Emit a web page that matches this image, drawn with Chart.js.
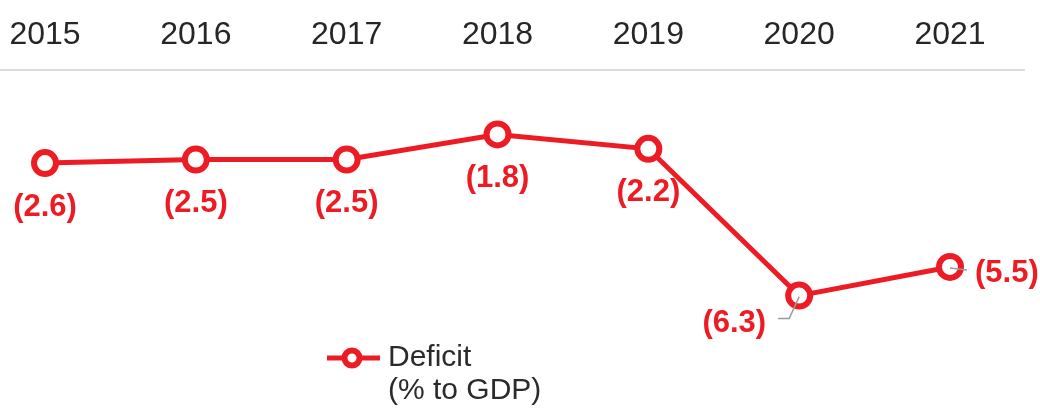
<!DOCTYPE html>
<html>
<head>
<meta charset="utf-8">
<script src="https://cdn.jsdelivr.net/npm/chart.js@4/dist/chart.umd.min.js"></script>
<style>
  html, body { margin: 0; padding: 0; background: #fff; }
  #wrap { width: 1040px; height: 408px; }
</style>
</head>
<body>
<div id="wrap"><canvas id="deficitChart"></canvas></div>
<script>
const years = ['2015', '2016', '2017', '2018', '2019', '2020', '2021'];
const deficit = [-2.6, -2.5, -2.5, -1.8, -2.2, -6.3, -5.5];
const deficitLabels = ['(2.6)', '(2.5)', '(2.5)', '(1.8)', '(2.2)', '(6.3)', '(5.5)'];
const seriesName = ['Deficit', '(% to GDP)'];

const RED = '#ED1C24';
const FONT = '"Liberation Sans", Arial, sans-serif';
// where each value label goes relative to its point
const placement = ['below', 'below', 'below', 'below', 'below', 'leftLeader', 'rightLeader'];

// legend marker: line with hollow circle
const marker = document.createElement('canvas');
marker.width = 56; marker.height = 26;
(function () {
  const c = marker.getContext('2d');
  c.strokeStyle = RED; c.lineWidth = 5;
  c.beginPath(); c.moveTo(0, 13); c.lineTo(56, 13); c.stroke();
  c.beginPath(); c.arc(28, 13, 7.5, 0, Math.PI * 2);
  c.fillStyle = '#fff'; c.fill();
  c.lineWidth = 6; c.stroke();
})();

const extras = {
  id: 'extras',
  afterLayout(chart) {
    const lg = chart.legend;
    lg.left = 327;
    lg.top = 339;
    lg.bottom = 408;
    lg.height = 69;
  },
  beforeDatasetsDraw(chart) {
    const ctx = chart.ctx, top = chart.chartArea.top;
    ctx.save();
    ctx.strokeStyle = '#dcdcdc';
    ctx.lineWidth = 2;
    ctx.beginPath(); ctx.moveTo(0, top); ctx.lineTo(1025, top); ctx.stroke();
    ctx.restore();
  },
  afterDatasetsDraw(chart) {
    const ctx = chart.ctx;
    const pts = chart.getDatasetMeta(0).data;
    ctx.save();
    ctx.font = 'bold 31px ' + FONT;
    ctx.fillStyle = RED;
    ctx.textBaseline = 'middle';
    pts.forEach((pt, i) => {
      const txt = deficitLabels[i];
      if (placement[i] === 'below') {
        ctx.textAlign = 'center';
        ctx.fillText(txt, pt.x, pt.y + 44);
      } else if (placement[i] === 'leftLeader') {
        ctx.strokeStyle = '#9a9a9a'; ctx.lineWidth = 1.5;
        ctx.beginPath();
        ctx.moveTo(pt.x, pt.y + 1);
        ctx.lineTo(pt.x - 10, pt.y + 23);
        ctx.lineTo(pt.x - 21, pt.y + 23);
        ctx.stroke();
        ctx.textAlign = 'right';
        ctx.fillText(txt, pt.x - 33, pt.y + 28);
      } else {
        ctx.strokeStyle = '#9a9a9a'; ctx.lineWidth = 1.5;
        ctx.beginPath();
        ctx.moveTo(pt.x, pt.y + 1);
        ctx.lineTo(pt.x + 17, pt.y + 3);
        ctx.stroke();
        ctx.textAlign = 'left';
        ctx.fillText(txt, pt.x + 25, pt.y + 6);
      }
    });
    ctx.restore();
  }
};

new Chart(document.getElementById('deficitChart'), {
  type: 'line',
  data: {
    labels: years,
    datasets: [{
      label: seriesName,
      data: deficit,
      borderColor: RED,
      borderWidth: 5,
      tension: 0,
      pointRadius: 11,
      pointHoverRadius: 11,
      pointBorderWidth: 6,
      pointBackgroundColor: '#fff',
      pointBorderColor: RED,
      clip: false
    }]
  },
  options: {
    responsive: true,
    maintainAspectRatio: false,
    animation: false,
    events: [],
    layout: { padding: { left: 45, right: 90, top: 0, bottom: 29 } },
    scales: {
      x: {
        position: 'top',
        offset: false,
        grid: { display: true, color: 'rgba(0,0,0,0)', drawOnChartArea: false, drawTicks: true, tickLength: 7 },
        border: { display: false },
        ticks: { color: '#262626', padding: 9, font: { family: FONT, size: 32, lineHeight: 1.2 } },
        afterFit(scale) { scale.height = 70; }
      },
      y: {
        display: false,
        min: -7.4,
        max: 0
      }
    },
    plugins: {
      tooltip: { enabled: false },
      legend: {
        position: 'bottom',
        align: 'start',
        labels: {
          usePointStyle: true,
          pointStyleWidth: 42,
          color: '#2b2b2b',
          padding: 4,
          font: { family: FONT, size: 30, lineHeight: 1.1 },
          generateLabels: (chart) => [{
            text: seriesName,
            pointStyle: marker,
            fillStyle: RED,
            strokeStyle: RED,
            lineWidth: 0,
            fontColor: '#2b2b2b',
            datasetIndex: 0
          }]
        }
      }
    }
  },
  plugins: [extras]
});
</script>
</body>
</html>
